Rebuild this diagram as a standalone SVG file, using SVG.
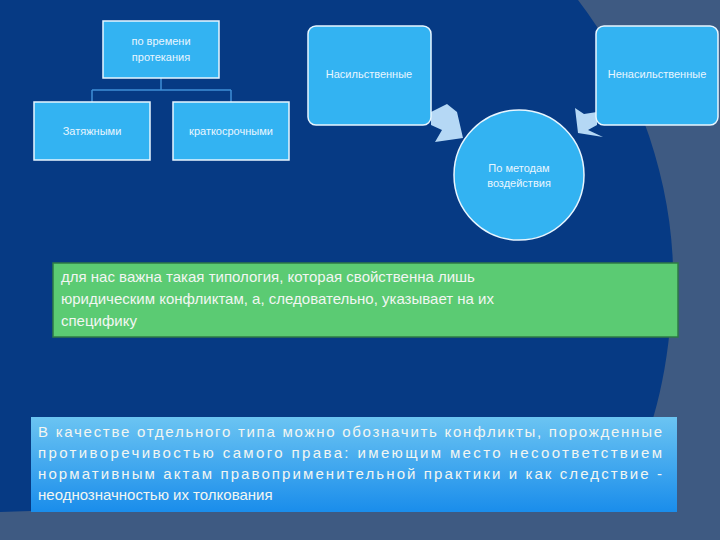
<svg xmlns="http://www.w3.org/2000/svg" width="720" height="540" viewBox="0 0 720 540">
<defs>
<linearGradient id="bg" x1="0" y1="0" x2="0" y2="1"><stop offset="0" stop-color="#6BC4F2"/><stop offset="1" stop-color="#1A8DEB"/></linearGradient>
<style>
.n{fill:#33B3F2;stroke:#E8F6FF;stroke-width:1.5}
.t{font-family:"Liberation Sans",Arial,sans-serif;font-size:11px;fill:#E9F6FF}
.c{stroke:#3F8FD6;stroke-width:1.5;fill:none}
.a{fill:#B5D8F5}
.p{font-family:"Liberation Sans",Arial,sans-serif;font-size:15px;fill:#F2F6F2}
</style>
</defs>
<rect width="720" height="540" fill="#3E5A82"/>
<path d="M0,0 L578,0 C640,80 680,200 672,300 C668,380 650,440 628,480 C500,500 200,505 0,512 Z" fill="#063A84"/>
<g id="connectors">
<path class="c" d="M161,78 V90 M92,90 H231 M92,90 V102 M231,90 V102"/>
<path class="a" d="M431,112 L447,104 L457,112 L463,138 L435,142 L442,130 L431,125 Z"/>
<path class="a" d="M597,112 L597,125 L588,130 L603,137 L578,133 L575,108 L584,114 Z"/>
</g>
<g id="n1"><rect class="n" x="103" y="21" width="116" height="57"/><text class="t" text-anchor="middle"><tspan x="161" y="45">по времени</tspan><tspan x="161" y="61">протекания</tspan></text></g>
<g id="n2"><rect class="n" x="34" y="102" width="116" height="58"/><text class="t" x="92" y="135" text-anchor="middle">Затяжными</text></g>
<g id="n3"><rect class="n" x="173" y="102" width="116" height="58"/><text class="t" x="231" y="135" text-anchor="middle">краткосрочными</text></g>
<g id="n4"><rect class="n" x="308" y="26" width="123" height="99" rx="8"/><text class="t" x="369" y="78" text-anchor="middle" font-size="10">Насильственные</text></g>
<g id="n5"><rect class="n" x="596" y="26" width="122" height="99" rx="8"/><text class="t" x="657" y="78" text-anchor="middle" font-size="10">Ненасильственные</text></g>
<g id="n6"><ellipse class="n" cx="519" cy="175" rx="65" ry="65"/><text class="t" text-anchor="middle"><tspan x="519" y="172">По методам</tspan><tspan x="519" y="187">воздействия</tspan></text></g>
<g id="green"><rect x="53" y="263" width="625" height="74" fill="#5BCB73" stroke="#2E7A45" stroke-width="1.5"/>
<text class="p"><tspan x="61" y="282">для нас важна такая типология, которая свойственна лишь</tspan><tspan x="61" y="304">юридическим конфликтам, а, следовательно, указывает на их</tspan><tspan x="61" y="326">специфику</tspan></text></g>
<g id="blue"><rect x="31" y="417" width="646" height="95" fill="url(#bg)"/>
<text class="p" font-size="14.5"><tspan x="38" y="437" textLength="624">В качестве отдельного типа можно обозначить конфликты, порожденные</tspan><tspan x="38" y="458" textLength="624">противоречивостью самого права: имеющим место несоответствием</tspan><tspan x="38" y="479" textLength="624">нормативным актам правоприменительной практики и как следствие -</tspan><tspan x="38" y="500">неоднозначностью их толкования</tspan></text></g>
</svg>
